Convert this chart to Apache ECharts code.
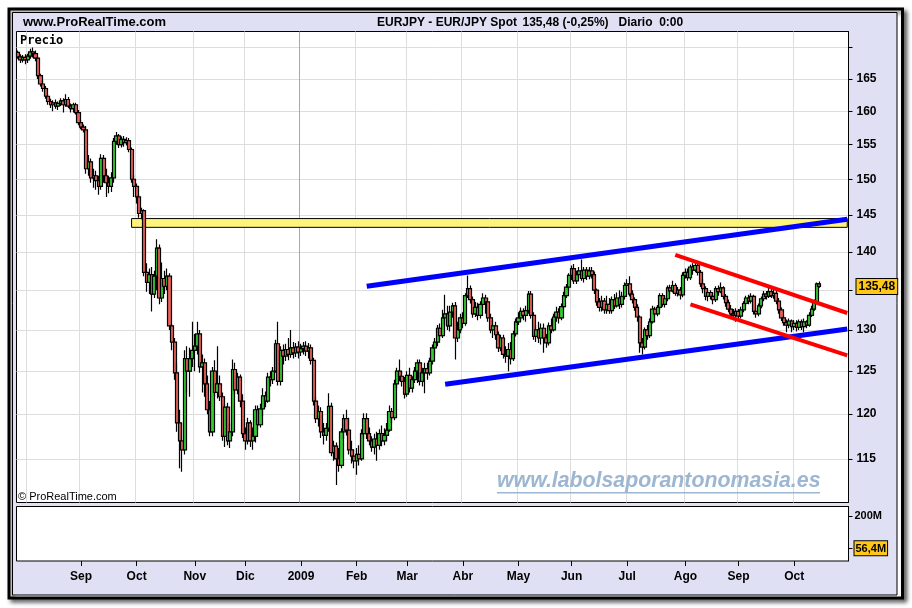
<!DOCTYPE html>
<html><head><meta charset="utf-8">
<script src="https://cdn.jsdelivr.net/npm/echarts@6.0.0/dist/echarts.min.js"></script>
<style>html,body{margin:0;padding:0;background:#fff;}#c{width:912px;height:608px;}</style>
</head><body><div id="c"></div>
<script>
// ---- data (EUR/JPY daily) ----
const firstDay = '2008-07-28';
const lastDay = '2009-10-30';
const skipDays = ['2008-12-25'];
const opens = [
169.2,168.5,168.0,168.4,168.0,168.6,169.3,169.0,168.3,165.5,164.2,163.5,
162.3,161.5,161.0,161.3,160.8,161.2,161.6,161.0,161.8,160.8,160.4,161.0,
159.8,158.3,157.6,157.2,151.5,152.5,150.2,150.5,149.8,149.0,153.0,150.5,149.5,149.0,150.2,
155.5,156.3,155.0,155.8,155.3,155.6,154.3,150.0,149.0,147.5,145.2,
145.6,137.3,136.0,137.0,134.5,136.8,140.5,134.0,136.5,135.5,136.8,130.5,128.5,124.8,119.0,117.0,116.0,126.5,
125.0,126.5,127.5,128.0,129.5,125.5,126.0,
123.5,120.5,118.0,125.0,122.5,123.5,122.0,117.5,120.8,117.0,118.0,125.2,122.8,124.3,121.5,
117.8,117.0,119.0,117.0,117.5,120.5,118.8,120.6,122.1,121.5,124.3,124.0,125.0,128.3,123.8,127.5,126.8,127.6,127.0,127.8,127.2,127.9,127.3,127.7,128.0,127.4,
127.8,126.3,121.5,119.5,120.3,118.0,117.6,118.4,120.9,115.7,116.4,115.0,114.3,118.0,119.5,118.2,116.0,115.3,114.8,115.5,115.0,117.8,119.5,117.8,117.0,116.3,117.2,116.5,117.8,117.0,117.6,118.2,120.3,119.6,123.5,125.0,124.4,123.8,122.3,124.5,123.0,124.0,
125.0,126.0,123.8,124.8,125.3,124.8,126.2,127.8,128.5,130.2,129.3,131.5,132.0,130.5,132.2,133.0,129.0,130.0,131.5,130.8,
134.3,135.2,133.8,132.0,132.8,131.8,133.2,134.0,133.5,131.5,130.0,130.5,129.4,127.8,129.0,127.0,126.8,127.6,126.5,129.5,
131.0,131.5,132.3,131.8,132.4,134.5,131.8,129.2,130.0,129.0,130.2,129.0,128.4,130.5,130.0,131.6,132.2,131.5,132.9,134.3,135.4,
136.9,137.8,136.2,137.0,137.5,136.5,137.6,136.8,137.5,137.0,135.0,133.5,132.8,133.6,132.5,133.2,132.4,133.8,133.0,134.0,
133.2,134.2,135.6,135.8,134.5,133.8,132.8,131.6,128.4,127.9,130.0,129.3,131.0,132.6,132.0,132.8,134.3,133.2,133.9,135.3,134.9,135.6,134.6,135.0,134.4,
136.9,137.3,136.6,138.0,137.6,138.2,137.3,135.8,135.2,134.2,134.7,134.2,133.8,135.2,134.8,135.3,134.2,133.4,132.6,132.0,131.8,
132.3,131.7,132.5,133.3,134.0,133.6,134.2,132.3,132.0,133.0,133.9,134.5,134.2,134.8,134.3,134.6,133.6,132.5,131.5,130.9,130.6,131.1,
130.4,130.8,130.3,131.0,130.4,131.0,130.6,131.8,132.6,133.5,135.82
];
const highs = [
169.5,168.9,168.8,168.9,169.0,169.8,170.0,169.5,168.6,165.8,164.8,163.9,
162.6,161.9,161.7,161.8,161.5,162.0,162.0,162.6,162.2,161.2,161.3,161.3,
160.2,158.7,158.0,157.8,153.5,153.0,151.5,151.2,150.5,153.6,153.5,151.5,150.5,151.0,156.0,
156.9,156.6,156.2,156.3,156.1,156.0,154.6,150.6,149.4,147.8,146.0,
145.8,138.5,137.8,138.0,137.5,141.7,141.0,138.6,137.5,137.8,137.2,130.8,129.0,126.0,120.5,119.0,127.5,128.0,
127.8,131.0,129.5,131.0,130.0,127.0,126.5,
124.5,121.5,125.5,126.3,128.0,124.5,122.5,121.2,121.3,119.0,126.4,126.0,124.8,124.6,122.3,
118.5,119.6,119.3,118.5,121.0,121.0,121.2,123.0,122.6,124.8,125.0,125.5,128.8,131.0,128.0,128.2,128.3,129.0,130.0,128.5,128.4,128.6,128.3,128.5,128.6,128.4,
128.2,126.6,122.0,121.0,120.8,119.0,119.0,122.4,121.3,117.0,116.8,116.2,118.4,120.0,120.5,119.6,117.0,116.0,116.2,116.5,118.3,120.1,120.1,118.5,117.5,117.8,118.0,118.3,118.7,118.4,119.0,121.0,120.7,124.0,125.4,126.4,125.0,124.3,125.0,125.4,124.4,125.5,
126.4,126.4,125.4,126.0,126.0,126.6,128.2,129.0,130.6,130.8,132.5,134.4,133.0,133.0,133.4,133.5,131.0,132.0,132.2,134.6,
136.9,135.6,134.2,133.5,133.4,133.6,134.6,134.4,134.0,132.0,131.2,131.0,129.8,129.4,129.4,128.0,128.4,128.5,129.9,131.4,
132.2,132.8,132.7,133.0,134.9,134.9,132.2,130.6,131.0,130.8,130.8,129.5,130.9,131.4,132.0,132.9,132.7,133.3,134.8,135.8,137.2,
138.2,138.4,137.5,138.0,139.0,138.0,138.0,138.0,138.0,137.4,135.2,134.0,134.3,134.0,134.3,134.0,134.2,134.5,134.7,135.0,
134.8,136.0,136.4,136.8,135.0,134.1,133.2,131.8,129.0,130.3,130.6,131.4,133.0,132.9,133.1,134.6,134.6,134.3,135.6,135.7,136.2,135.9,135.4,135.4,137.3,
137.8,137.8,138.3,138.5,138.5,138.4,137.6,136.4,135.5,135.0,135.0,134.6,135.5,135.6,136.0,135.5,134.5,133.8,133.1,132.6,132.7,
132.6,132.9,133.6,134.3,134.4,134.6,134.4,132.7,133.3,134.2,134.9,134.9,135.3,135.3,135.2,134.9,134.0,132.8,131.8,131.3,131.4,131.3,
131.2,131.2,131.3,131.3,131.4,131.2,132.2,133.0,133.8,136.0,136.1
];
const lows = [
168.2,167.5,167.6,167.3,167.5,168.2,168.4,167.8,165.0,163.8,163.0,161.9,
161.0,160.5,160.0,160.4,160.2,160.8,159.8,160.7,160.5,159.8,159.8,159.5,
157.9,157.3,156.8,150.8,150.5,149.5,148.8,148.5,147.8,148.5,149.5,147.5,148.0,148.2,149.5,
155.0,154.5,154.6,154.7,154.9,153.9,149.5,147.5,146.6,144.6,144.4,
136.8,134.8,134.5,132.3,134.0,135.0,133.2,133.5,134.5,135.0,130.0,127.5,124.0,118.0,114.0,113.6,115.5,122.5,
122.0,125.5,125.0,127.0,124.8,122.5,122.0,
120.0,117.5,117.5,122.0,121.8,121.5,117.0,116.3,116.5,116.2,117.5,122.3,122.3,120.8,117.3,
116.0,116.6,116.3,116.0,116.8,118.2,118.5,119.8,120.8,121.3,123.2,123.5,124.8,123.3,123.3,125.8,126.2,126.3,126.6,126.5,126.7,126.5,126.8,127.0,126.8,126.5,
125.8,121.0,119.0,118.6,117.3,116.6,117.0,118.0,115.3,114.8,112.2,113.6,114.0,117.2,117.6,115.5,114.5,114.0,113.3,114.3,114.8,117.2,117.2,116.5,115.8,115.5,114.8,116.0,116.4,116.5,117.0,118.0,119.0,119.3,123.0,123.8,123.2,121.8,122.0,122.5,122.5,123.6,
123.6,123.3,123.2,122.4,124.0,124.5,125.8,127.0,128.0,128.7,129.0,130.6,130.0,129.8,131.5,126.4,128.5,129.6,130.2,130.5,
134.0,133.3,131.5,131.6,131.2,131.4,132.6,132.0,131.0,129.6,129.0,128.8,127.3,127.4,126.5,126.0,125.0,125.8,126.2,129.2,
130.6,131.0,131.2,131.0,132.0,131.4,128.8,128.5,128.4,128.2,127.2,127.8,128.1,129.6,129.8,131.0,130.8,131.2,132.5,134.0,135.0,
136.3,135.8,135.8,136.5,136.2,136.0,136.3,136.4,136.5,134.5,133.0,132.3,132.3,132.0,132.0,132.0,132.0,132.6,132.8,132.6,
132.8,133.8,135.0,134.2,133.3,132.4,131.0,127.2,127.0,127.6,128.8,129.0,130.8,131.6,131.7,132.5,132.9,132.8,133.6,134.4,134.7,134.3,134.2,133.8,134.1,
136.5,136.2,136.3,137.0,137.3,136.9,135.4,134.6,133.7,133.6,133.8,133.2,133.5,134.3,134.6,133.8,132.9,132.2,131.6,131.2,131.0,
131.3,131.4,132.2,133.0,133.2,133.3,131.9,131.5,131.7,132.7,133.6,133.8,134.0,134.0,133.9,133.2,132.0,131.1,130.5,129.7,130.2,129.7,
130.0,129.8,130.0,130.0,129.7,130.2,130.4,131.6,132.4,133.3,135.3
];
const closes = [
168.5,168.0,168.4,168.0,168.6,169.3,169.0,168.3,165.5,164.2,163.5,162.3,
161.5,161.0,161.3,160.8,161.2,161.6,161.0,161.8,160.8,160.4,161.0,159.8,
158.3,157.6,157.2,151.5,152.5,150.2,150.5,149.8,149.0,153.0,150.5,149.5,149.0,150.2,155.5,
156.3,155.0,155.8,155.3,155.6,154.3,150.0,149.0,147.5,145.2,145.6,
137.3,136.0,137.0,134.5,136.8,140.5,134.0,136.5,135.5,136.8,130.5,128.5,124.8,119.0,117.0,116.0,126.5,125.0,
126.5,127.5,128.0,129.5,125.5,126.0,123.5,
120.5,118.0,125.0,122.5,123.5,122.0,117.5,120.8,117.0,118.0,125.2,122.8,124.3,121.5,117.8,
117.0,119.0,117.0,117.5,120.5,118.8,120.6,122.1,121.5,124.3,124.0,125.0,128.3,123.8,127.5,126.8,127.6,127.0,127.8,127.2,127.9,127.3,127.7,128.0,127.4,127.8,
126.3,121.5,119.5,120.3,118.0,117.6,118.4,120.9,115.7,116.4,115.0,114.3,118.0,119.5,118.2,116.0,115.3,114.8,115.5,115.0,117.8,119.5,117.8,117.0,116.3,117.2,116.5,117.8,117.0,117.6,118.2,120.3,119.6,123.5,125.0,124.4,123.8,122.3,124.5,123.0,124.0,125.0,
126.0,123.8,124.8,125.3,124.8,126.2,127.8,128.5,130.2,129.3,131.5,132.0,130.5,132.2,133.0,129.0,130.0,131.5,130.8,134.3,
135.2,133.8,132.0,132.8,131.8,133.2,134.0,133.5,131.5,130.0,130.5,129.4,127.8,129.0,127.0,126.8,127.6,126.5,129.5,131.0,
131.5,132.3,131.8,132.4,134.5,131.8,129.2,130.0,129.0,130.2,129.0,128.4,130.5,130.0,131.6,132.2,131.5,132.9,134.3,135.4,136.9,
137.8,136.2,137.0,137.5,136.5,137.6,136.8,137.5,137.0,135.0,133.5,132.8,133.6,132.5,133.2,132.4,133.8,133.0,134.0,133.2,
134.2,135.6,135.8,134.5,133.8,132.8,131.6,128.4,127.9,130.0,129.3,131.0,132.6,132.0,132.8,134.3,133.2,133.9,135.3,134.9,135.6,134.6,135.0,134.4,136.9,
137.3,136.6,138.0,137.6,138.2,137.3,135.8,135.2,134.2,134.7,134.2,133.8,135.2,134.8,135.3,134.2,133.4,132.6,132.0,131.8,132.3,
131.7,132.5,133.3,134.0,133.6,134.2,132.3,132.0,133.0,133.9,134.5,134.2,134.8,134.3,134.6,133.6,132.5,131.5,130.9,130.6,131.1,130.4,
130.8,130.3,131.0,130.4,131.0,130.6,131.8,132.6,133.5,135.82,135.48
];
const priceTicks = [115,120,125,130,135,140,145,150,155,160,165,170];
const priceLabels = [115,120,125,130,135.48,140,145,150,155,160,165];
const lastPrice = 135.48;
const volumeLabels = [200, 56.4];
const lastVolume = 56.4;
// support band [startDay, endDay, low, high]
const supportBand = ['2008-09-29', '2009-10-30', 143.3, 144.5];
// trend lines [startDay, startPrice, endDay, endPrice]
const blueLines = [
  ['2009-02-06', 135.5, '2009-10-30', 144.4],
  ['2009-03-23', 123.45, '2009-10-30', 130.1]
];
const redLines = [
  ['2009-07-28', 139.6, '2009-10-30', 132.1],
  ['2009-08-05', 133.2, '2009-10-30', 126.9]
];
const monthNames = ['Ene','Feb','Mar','Abr','May','Jun','Jul','Ago','Sep','Oct','Nov','Dic'];

// ---- categories: trading days ----
const dates = [];
(function(){
  const a = firstDay.split('-').map(Number), b = lastDay.split('-').map(Number);
  for (let t = Date.UTC(a[0], a[1]-1, a[2]); t <= Date.UTC(b[0], b[1]-1, b[2]); t += 86400000) {
    const d = new Date(t), wd = d.getUTCDay();
    if (wd === 0 || wd === 6) continue;
    const s = d.toISOString().slice(0, 10);
    if (skipDays.indexOf(s) >= 0) continue;
    dates.push(s);
  }
})();
function isMonthStart(i) { return i > 0 && dates[i].slice(5,7) !== dates[i-1].slice(5,7); }
function isLabelledMonth(i) { return isMonthStart(i) && dates[i] !== '2008-08-01'; }
function monthLabel(s) {
  const m = +s.slice(5,7);
  return m === 1 ? s.slice(0,4) : monthNames[m-1];
}
const candleData = closes.map((c, i) => [opens[i], c, lows[i], highs[i]]);

const FONT = 'Liberation Sans';
const vColors = [];
dates.forEach((d, i) => { if (isMonthStart(i)) vColors.push(d === '2009-01-01' ? '#A8A8A8' : '#DDDDDD'); });

const chart = echarts.init(document.getElementById('c'));
chart.setOption({
  animation: false,
  backgroundColor: '#fff',
  grid: [
    {left: 16.5, top: 31.5, width: 832, height: 471, show: true, backgroundColor: '#fff', borderColor: '#000', borderWidth: 1},
    {left: 16.5, top: 506.5, width: 832, height: 54.5, show: true, backgroundColor: '#fff', borderColor: '#000', borderWidth: 1}
  ],
  xAxis: [
    {type: 'category', gridIndex: 0, data: dates, boundaryGap: true,
     axisLine: {show: false}, axisTick: {show: false}, axisLabel: {show: false},
     splitLine: {show: true, interval: (i) => isMonthStart(i), lineStyle: {color: vColors, width: 1}}},
    {type: 'category', gridIndex: 1, data: dates, boundaryGap: true,
     axisLine: {show: false},
     axisTick: {show: true, alignWithLabel: true, interval: (i) => isLabelledMonth(i), length: 5, lineStyle: {color: '#000'}},
     axisLabel: {interval: (i) => isLabelledMonth(i), formatter: (v) => monthLabel(v), color: '#000',
                 fontFamily: FONT, fontWeight: 'bold', fontSize: 12, margin: 10},
     splitLine: {show: false}}
  ],
  yAxis: [
    {type: 'log', logBase: 10, gridIndex: 0, position: 'right', min: 110.34, max: 172.6,
     axisLine: {show: true, lineStyle: {color: '#000'}},
     axisTick: {show: true, length: 4, customValues: priceTicks, lineStyle: {color: '#000'}},
     axisLabel: {customValues: priceLabels, color: '#000', fontFamily: FONT, fontWeight: 'bold', fontSize: 12, margin: 8,
       formatter: (v) => Math.abs(v - lastPrice) < 0.01 ? '{box|' + lastPrice.toFixed(2).replace('.', ',') + '}' : String(Math.round(v)),
       rich: {box: {backgroundColor: '#FFC819', borderColor: '#000', borderWidth: 1, padding: [2, 2, 1, 2],
                    color: '#000', fontFamily: FONT, fontWeight: 'bold', fontSize: 12}}},
     splitLine: {show: true, lineStyle: {color: '#DDDDDD', width: 1}}},
    {type: 'value', gridIndex: 1, position: 'right', min: 0, max: 241.5,
     axisLine: {show: true, lineStyle: {color: '#000'}},
     axisTick: {show: true, length: 4, customValues: volumeLabels, lineStyle: {color: '#000'}},
     axisLabel: {customValues: volumeLabels, color: '#000', fontFamily: FONT, fontWeight: 'bold', fontSize: 11, margin: 6,
       formatter: (v) => Math.abs(v - lastVolume) < 0.01 ? '{box|' + String(lastVolume).replace('.', ',') + 'M}' : v + 'M',
       rich: {box: {backgroundColor: '#FFC819', borderColor: '#000', borderWidth: 1, padding: [2, 1, 1, 1],
                    color: '#000', fontFamily: FONT, fontWeight: 'bold', fontSize: 11}}},
     splitLine: {show: false}}
  ],
  series: [
    {type: 'candlestick', xAxisIndex: 0, yAxisIndex: 0, data: candleData, barWidth: 3.6,
     itemStyle: {color: '#33CC33', color0: '#E8605A', borderColor: '#000', borderColor0: '#000', borderColorDoji: '#000', borderWidth: 1.2},
     markArea: {silent: true, itemStyle: {color: '#FFF47A', borderColor: '#000', borderWidth: 1},
       data: [[{xAxis: supportBand[0], yAxis: supportBand[2]}, {xAxis: supportBand[1], yAxis: supportBand[3]}]]},
     markLine: {silent: true, symbol: 'none', animation: false, label: {show: false},
       data: blueLines.map(l => [{coord: [l[0], l[1]], lineStyle: {color: '#0000FF', width: 5, type: 'solid'}}, {coord: [l[2], l[3]]}])
         .concat(redLines.map(l => [{coord: [l[0], l[1]], lineStyle: {color: '#FF0000', width: 4, type: 'solid'}}, {coord: [l[2], l[3]]}]))}
    },
    {type: 'bar', xAxisIndex: 1, yAxisIndex: 1, data: []}
  ],
  graphic: {elements: [
    {type: 'rect', z: -20, shape: {x: 9, y: 9, width: 893.5, height: 589},
     style: {fill: '#fff', stroke: '#000', lineWidth: 3, shadowBlur: 4, shadowOffsetX: 3, shadowOffsetY: 3, shadowColor: 'rgba(0,0,0,0.55)'}},
    {type: 'rect', z: -19, shape: {x: 12.5, y: 12.5, width: 884.5, height: 582.5},
     style: {fill: '#E0E0F4', stroke: '#000', lineWidth: 1}},
    {type: 'text', z: 100, x: 23, y: 22.5, style: {text: 'www.ProRealTime.com', fill: '#000', font: 'bold 13px "Liberation Sans"', textVerticalAlign: 'middle'}},
    {type: 'text', z: 100, x: 377, y: 22.5, style: {text: 'EURJPY - EUR/JPY Spot', fill: '#000', font: 'bold 12px "Liberation Sans"', textVerticalAlign: 'middle'}},
    {type: 'text', z: 100, x: 522.5, y: 22.5, style: {text: '135,48 (-0,25%)', fill: '#000', font: 'bold 12px "Liberation Sans"', textVerticalAlign: 'middle'}},
    {type: 'text', z: 100, x: 618.5, y: 22.5, style: {text: 'Diario  0:00', fill: '#000', font: 'bold 12px "Liberation Sans"', textVerticalAlign: 'middle'}},
    {type: 'text', z: 100, x: 20, y: 40.5, style: {text: 'Precio', fill: '#000', font: 'bold 12px "DejaVu Sans Mono"', textVerticalAlign: 'middle'}},
    {type: 'text', z: 100, x: 18, y: 497, style: {text: '© ProRealTime.com', fill: '#000', font: '11px "Liberation Sans"', textVerticalAlign: 'middle'}},
    {type: 'text', z: 100, x: 497, y: 481.5, style: {text: 'www.labolsaporantonomasia.es', fill: '#9DB6D2', font: 'italic bold 21.3px "Liberation Sans"', textVerticalAlign: 'middle'}},
    {type: 'rect', z: 100, shape: {x: 497, y: 492, width: 323, height: 1.5}, style: {fill: '#9DB6D2'}}
  ]}
});
</script>
</body></html>
